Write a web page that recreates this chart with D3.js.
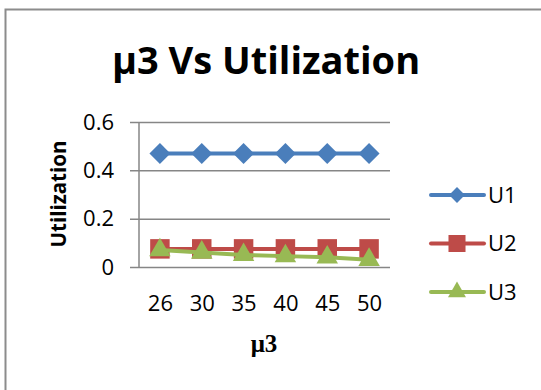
<!DOCTYPE html>
<html>
<head>
<meta charset="utf-8">
<script src="https://cdn.jsdelivr.net/npm/d3@7"></script>
<style>
  body { margin: 0; background: #fff; }
  svg { display: block; font-family: "Open Sans", sans-serif; }
</style>
</head>
<body>
<svg id="graph"></svg>
<script>
var categories = ["26", "30", "35", "40", "45", "50"]
var u1 = [0.47, 0.47, 0.47, 0.47, 0.47, 0.47]
var u2 = [0.075, 0.075, 0.075, 0.075, 0.075, 0.075]
var u3 = [0.07, 0.06, 0.05, 0.045, 0.04, 0.03]
var yTicks = [0, 0.2, 0.4, 0.6]
var seriesNames = ["U1", "U2", "U3"]

var screen = {width: 541, height: 390}
var plot = {left: 139, right: 390, top: 122, bottom: 267}

var svg = d3.select("#graph")
    .attr("width", screen.width)
    .attr("height", screen.height)

// chart frame
svg.append("rect")
    .attr("x", 5.5).attr("y", 9.5)
    .attr("width", 600).attr("height", 500)
    .attr("fill", "none")
    .attr("stroke", "#8c8c8c")
    .attr("stroke-width", 2)

var xScale = d3.scalePoint()
    .domain(categories)
    .range([plot.left, plot.right])
    .padding(0.5)

var yScale = d3.scaleLinear()
    .domain([0, 0.6])
    .range([plot.bottom, plot.top])

// gridlines + y axis
var yAxis = d3.axisLeft(yScale)
    .tickValues(yTicks)
    .tickSize(-(plot.right - plot.left))
    .tickPadding(25)
    .tickFormat(function(d) { return d === 0 ? "0" : d3.format(".1f")(d) })

var gy = svg.append("g")
    .attr("transform", "translate(" + plot.left + ",0)")
    .call(yAxis)
gy.select(".domain").remove()
gy.selectAll(".tick line")
    .attr("x1", -9)
    .attr("stroke", "#868686")
    .attr("stroke-width", 1.5)
gy.selectAll(".tick text")
    .attr("font-size", 22)
    .attr("fill", "#000")
    .attr("font-family", "Open Sans")

svg.append("line")
    .attr("x1", plot.left).attr("x2", plot.left)
    .attr("y1", plot.top).attr("y2", plot.bottom)
    .attr("stroke", "#868686")
    .attr("stroke-width", 1.5)

// x axis labels
var xAxis = d3.axisBottom(xScale).tickSize(0).tickPadding(28)
var gx = svg.append("g")
    .attr("transform", "translate(0," + plot.bottom + ")")
    .call(xAxis)
gx.select(".domain").remove()
gx.selectAll(".tick text")
    .attr("font-size", 22)
    .attr("fill", "#000")
    .attr("font-family", "Open Sans")

// series
var series = [
    {name: "U1", values: u1, color: "#4a7ebb", symbol: d3.symbolSquare, rot: 45, size: 220, legendSize: 125},
    {name: "U2", values: u2, color: "#be4b48", symbol: d3.symbolSquare, rot: 0, size: 380, legendSize: 290},
    {name: "U3", values: u3, color: "#98b954", symbol: d3.symbolTriangle, rot: 0, size: 200, legendSize: 140}
]

var line = d3.line()
    .x(function(d, i) { return xScale(categories[i]) })
    .y(function(d) { return yScale(d) })

series.forEach(function(s) {
    svg.append("path")
        .datum(s.values)
        .attr("d", line)
        .attr("fill", "none")
        .attr("stroke", s.color)
        .attr("stroke-width", 4)
        .attr("stroke-linecap", "round")
    svg.append("g")
        .selectAll("path")
        .data(s.values)
        .enter()
        .append("path")
        .attr("transform", function(d, i) {
            return "translate(" + xScale(categories[i]) + "," + yScale(d) + ") rotate(" + s.rot + ")"
        })
        .attr("d", d3.symbol().type(s.symbol).size(s.size))
        .attr("fill", s.color)
})

// legend
var legend = svg.append("g")
series.forEach(function(s, i) {
    var y = 195 + i * 48.5
    legend.append("line")
        .attr("x1", 431).attr("x2", 484)
        .attr("y1", y).attr("y2", y)
        .attr("stroke", s.color)
        .attr("stroke-width", 4)
        .attr("stroke-linecap", "round")
    legend.append("path")
        .attr("transform", "translate(457," + y + ") rotate(" + s.rot + ")")
        .attr("d", d3.symbol().type(s.symbol).size(s.legendSize))
        .attr("fill", s.color)
    legend.append("text")
        .attr("x", 488).attr("y", y)
        .attr("dy", "0.35em")
        .attr("font-size", 22)
        .text(s.name)
})

// titles
svg.append("text")
    .attr("x", 266).attr("y", 74)
    .attr("text-anchor", "middle")
    .attr("font-size", 38)
    .attr("font-weight", "bold")
    .text("μ3 Vs Utilization")

svg.append("text")
    .attr("transform", "translate(66,194) rotate(-90)")
    .attr("text-anchor", "middle")
    .attr("font-size", 20.5)
    .attr("font-weight", "bold")
    .text("Utilization")

svg.append("text")
    .attr("x", 264).attr("y", 352)
    .attr("text-anchor", "middle")
    .attr("font-size", 25)
    .attr("font-weight", "bold")
    .attr("font-family", "Liberation Serif, serif")
    .text("μ3")
</script>
</body>
</html>
